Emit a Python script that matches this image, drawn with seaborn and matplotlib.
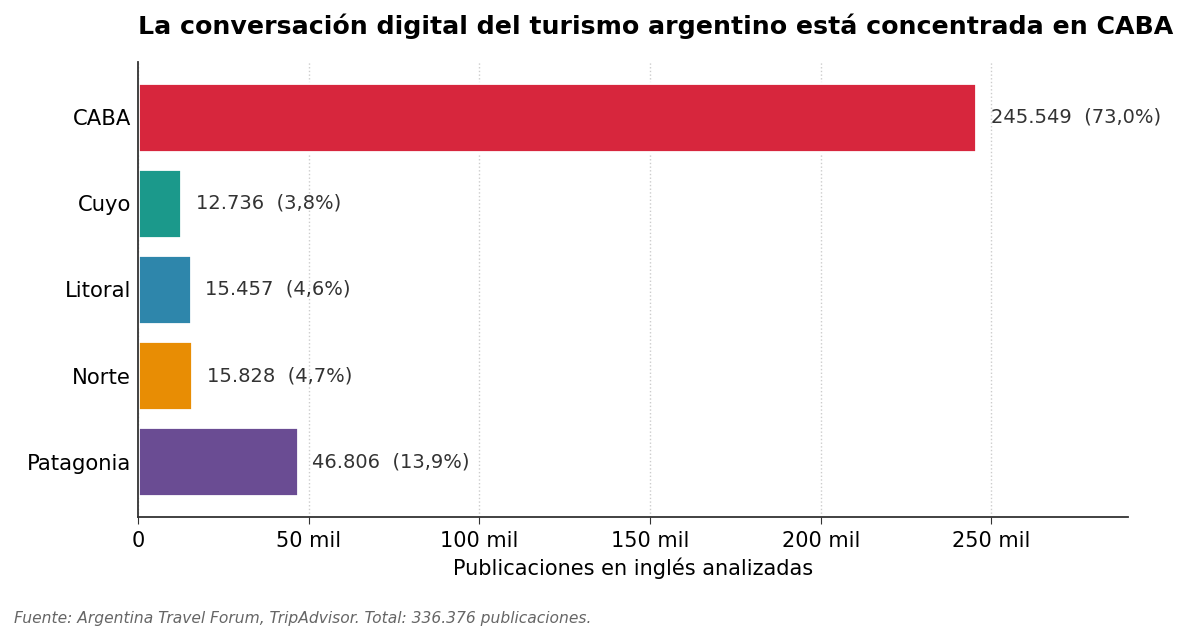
import pandas as pd
import matplotlib
matplotlib.use('Agg')
import matplotlib.pyplot as plt
import seaborn as sns
from matplotlib.ticker import FuncFormatter

# Data
regiones = ['CABA', 'Cuyo', 'Litoral', 'Norte', 'Patagonia']
publicaciones = [245549, 12736, 15457, 15828, 46806]
porcentajes = [73.0, 3.8, 4.6, 4.7, 13.9]
colores = ['#D7263D', '#1B998B', '#2E86AB', '#E88D04', '#6A4C93']
total = 336376

df = pd.DataFrame({'Region': regiones, 'Publicaciones': publicaciones, 'Pct': porcentajes})

sns.set_style('white')
plt.rcParams['font.family'] = ['DejaVu Sans']
plt.rcParams['text.color'] = 'black'
plt.rcParams['axes.labelcolor'] = 'black'
plt.rcParams['xtick.color'] = 'black'
plt.rcParams['ytick.color'] = 'black'

fig = plt.figure(figsize=(11.88, 6.39), dpi=100)
ax = fig.add_axes([0.116, 0.191, 0.8335, 0.712])

sns.barplot(data=df, y='Region', x='Publicaciones', hue='Region', palette=colores,
            saturation=1, orient='h', width=0.8, edgecolor='white', linewidth=2,
            legend=False, ax=ax)

ax.set_xlim(0, 290000)
ax.set_ylim(4.64, -0.64)

# value labels
offset = max(publicaciones) * 0.0175
for i, (v, p) in enumerate(zip(publicaciones, porcentajes)):
    txt = f'{v:,}'.replace(',', '.') + '  (' + f'{p:.1f}'.replace('.', ',') + '%)'
    ax.text(v + offset, i, txt, va='center', ha='left', fontsize=14, color='#333333')

ax.xaxis.set_major_formatter(FuncFormatter(lambda x, pos: '0' if x == 0 else f'{int(x / 1000)} mil'))
ax.set_xticks([0, 50000, 100000, 150000, 200000, 250000])
ax.tick_params(axis='x', labelsize=15, length=5, color='#333333', bottom=True, pad=5)
ax.tick_params(axis='y', labelsize=15.2, length=0, pad=5)

ax.grid(axis='x', linestyle=':', color='#cccccc', linewidth=1)
ax.set_axisbelow(True)
sns.despine(ax=ax)
for s in ['left', 'bottom']:
    ax.spines[s].set_color('#333333')
    ax.spines[s].set_linewidth(1.3)

ax.set_ylabel('')
ax.set_xlabel('Publicaciones en inglés analizadas', fontsize=15, labelpad=5)
ax.set_title('La conversación digital del turismo argentino está concentrada en CABA',
             loc='left', fontsize=18.2, fontweight='bold', pad=20, color='black')

fuente = 'Fuente: Argentina Travel Forum, TripAdvisor. Total: ' + f'{total:,}'.replace(',', '.') + ' publicaciones.'
fig.text(0.012, 0.025, fuente, fontsize=11.2, style='italic', color='#666666')

fig.savefig('out.png', dpi=100)
